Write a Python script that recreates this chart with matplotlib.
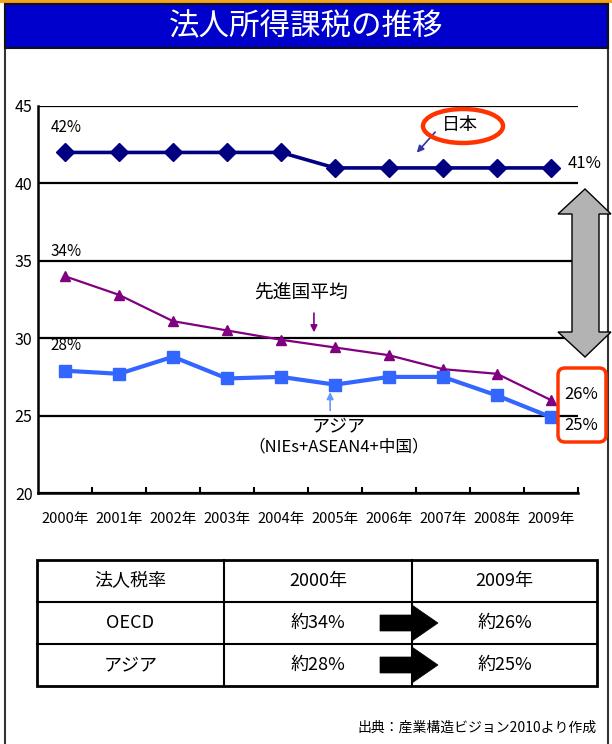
import numpy as np
import matplotlib
matplotlib.use('Agg')
import matplotlib.pyplot as plt
from matplotlib.patches import Rectangle, Polygon, Ellipse, FancyBboxPatch

plt.rcParams['font.family'] = ['Noto Sans CJK JP', 'DejaVu Sans']

# data
years = ['2000年', '2001年', '2002年', '2003年', '2004年',
         '2005年', '2006年', '2007年', '2008年', '2009年']
japan = [42, 42, 42, 42, 42, 41, 41, 41, 41, 41]
advanced = [34.0, 32.8, 31.1, 30.5, 29.9, 29.4, 28.9, 28.0, 27.7, 26.0]
asia = [27.9, 27.7, 28.8, 27.4, 27.5, 27.0, 27.5, 27.5, 26.3, 24.9]
y_ticks = [20, 25, 30, 35, 40, 45]

table_rows = [['法人税率', '2000年', '2009年'],
              ['OECD', '約34%', '約26%'],
              ['アジア', '約28%', '約25%']]

W, H = 612, 744
fig = plt.figure(figsize=(W / 100, H / 100), dpi=100)

# main chart axes
ax = fig.add_axes([38 / W, 1 - 493 / H, 540 / W, 387 / H])
x = np.arange(len(years))
ax.set_xlim(-0.5, len(years) - 0.5)
ax.set_ylim(20, 45)
for v in y_ticks:
    ax.axhline(v, color='black', lw=1.6, zorder=1)
ax.spines['top'].set_visible(False)
ax.spines['right'].set_visible(False)
ax.spines['left'].set_linewidth(1.8)
ax.spines['bottom'].set_linewidth(1.8)
ax.set_yticks(y_ticks)
ax.tick_params(axis='y', length=0, pad=4, labelsize=11.5)
ax.set_xticks(x)
ax.set_xticklabels(years)
ax.tick_params(axis='x', which='major', length=0, pad=14, labelsize=10.5)
ax.set_xticks(np.arange(len(years)) + 0.5, minor=True)
ax.tick_params(axis='x', which='minor', direction='in', length=4.5, width=1.5)

ax.plot(x, japan, color='#000080', lw=2.6, marker='D', ms=9, zorder=3)
ax.plot(x, advanced, color='#800080', lw=1.6, marker='^', ms=6.5, zorder=3)
ax.plot(x, asia, color='#3366FF', lw=3, marker='s', ms=8.5, zorder=4)

# data labels
ax.annotate('42%', (x[0], japan[0]), xytext=(1, 18), textcoords='offset points',
            ha='center', va='center', fontsize=11)
ax.annotate('34%', (x[0], advanced[0]), xytext=(1, 18), textcoords='offset points',
            ha='center', va='center', fontsize=11)
ax.annotate('28%', (x[0], asia[0]), xytext=(1, 18), textcoords='offset points',
            ha='center', va='center', fontsize=11)
ax.annotate('41%', (x[-1], japan[-1]), xytext=(24, 3), textcoords='offset points',
            ha='center', va='center', fontsize=12, annotation_clip=False)
ax.annotate('26%', (x[-1], advanced[-1]), xytext=(22, 4), textcoords='offset points',
            ha='center', va='center', fontsize=12, annotation_clip=False)
ax.annotate('25%', (x[-1], asia[-1]), xytext=(22, -6), textcoords='offset points',
            ha='center', va='center', fontsize=12, annotation_clip=False)

# series callouts
ax.text(7.31, 43.75, '日本', ha='center', va='center', fontsize=13)
ax.annotate('', xy=(6.48, 41.85), xytext=(6.89, 43.45),
            arrowprops=dict(arrowstyle='-|>', color='#3333AA', lw=1.2, mutation_scale=10))
ax.text(4.37, 32.9, '先進国平均', ha='center', va='center', fontsize=13.5)
ax.annotate('', xy=(4.61, 30.2), xytext=(4.61, 31.8),
            arrowprops=dict(arrowstyle='-|>', color='#800080', lw=1.2, mutation_scale=10))
ax.text(5.07, 24.3, 'アジア', ha='center', va='center', fontsize=13)
ax.text(5.07, 23.0, '（NIEs+ASEAN4+中国）', ha='center', va='center', fontsize=12)
ax.annotate('', xy=(4.91, 26.7), xytext=(4.91, 25.15),
            arrowprops=dict(arrowstyle='-|>', color='#6699FF', lw=1.2, mutation_scale=10))

# overlay in pixel coordinates for frame, title, table, footer
ov = fig.add_axes([0, 0, 1, 1])
ov.set_xlim(0, W)
ov.set_ylim(H, 0)
ov.axis('off')
ov.patch.set_alpha(0)

ov.add_patch(Rectangle((0, 0), W, 2.5, color='#F5A31F', lw=0))
ov.add_patch(Rectangle((5, 4), 603, 745, fill=False, ec='#333333', lw=1.5))
ov.add_patch(Rectangle((5, 4), 603, 44, fc='#0000CC', ec='#111111', lw=1.5))
ov.text(306, 27, '法人所得課税の推移', color='white', fontsize=22,
        ha='center', va='center')

ov.add_patch(Ellipse((463, 126), 80, 34, fill=False, ec='#FF3300', lw=3.2))
ov.add_patch(FancyBboxPatch((558, 368), 48, 74, boxstyle='round,pad=0,rounding_size=7',
                            fill=False, ec='#FF3300', lw=2.5))

arrow_pts = [(585, 189), (611, 214), (599, 214), (599, 332), (611, 332), (585, 357),
             (558, 332), (572, 332), (572, 214), (558, 214)]
ov.add_patch(Polygon(arrow_pts, closed=True, fc='#B3B3B3', ec='black', lw=1))

# summary table
tx = [37, 224, 412, 597]
ty = [560, 602, 644, 686]
ov.add_patch(Rectangle((tx[0], ty[0]), tx[-1] - tx[0], ty[-1] - ty[0],
                       fill=False, ec='black', lw=2))
for xv in tx[1:-1]:
    ov.plot([xv, xv], [ty[0], ty[-1]], color='black', lw=1.5)
for yv in ty[1:-1]:
    ov.plot([tx[0], tx[-1]], [yv, yv], color='black', lw=1.5)
for r, row in enumerate(table_rows):
    for c, cell in enumerate(row):
        ov.text((tx[c] + tx[c + 1]) / 2, (ty[r] + ty[r + 1]) / 2, cell,
                ha='center', va='center', fontsize=13)
for yc in [(ty[1] + ty[2]) / 2, (ty[2] + ty[3]) / 2]:
    pts = [(380, yc - 8), (412, yc - 8), (412, yc - 18), (438, yc),
           (412, yc + 18), (412, yc + 8), (380, yc + 8)]
    ov.add_patch(Polygon(pts, closed=True, fc='black', ec='black', lw=0.5))

ov.text(597, 728, '出典：産業構造ビジョン2010より作成', ha='right', va='center', fontsize=10)

fig.savefig('out.png', dpi=100)
